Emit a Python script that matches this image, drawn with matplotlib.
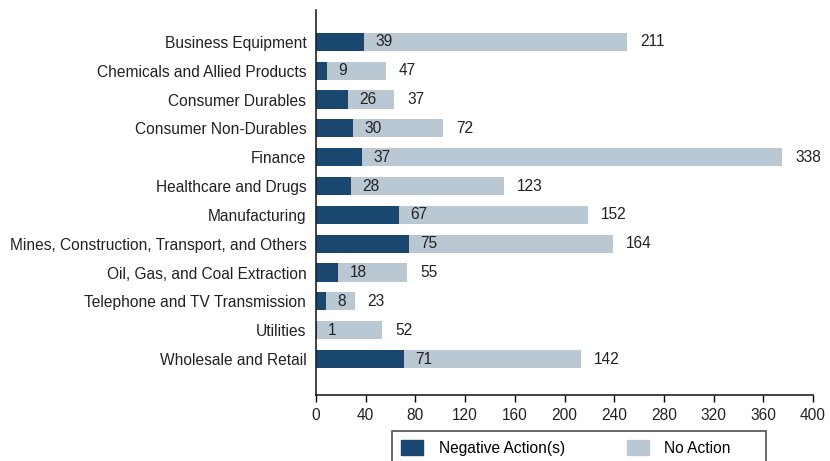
import numpy as np
import matplotlib.pyplot as plt

plt.rcParams['font.family'] = ['Liberation Sans', 'DejaVu Sans']

# data
industries = ['Business Equipment', 'Chemicals and Allied Products', 'Consumer Durables',
              'Consumer Non-Durables', 'Finance', 'Healthcare and Drugs', 'Manufacturing',
              'Mines, Construction, Transport, and Others', 'Oil, Gas, and Coal Extraction',
              'Telephone and TV Transmission', 'Utilities', 'Wholesale and Retail']
negative = [39, 9, 26, 30, 37, 28, 67, 75, 18, 8, 1, 71]
no_action = [211, 47, 37, 72, 338, 123, 152, 164, 55, 23, 52, 142]
xticks = list(range(0, 401, 40))

dark = '#1a476f'
light = '#bac8d4'
txt = '#222222'
fs = 11.2

fig = plt.figure(figsize=(8.3, 4.61), dpi=100)
ax = fig.add_axes([316 / 830, 0.143, 497 / 830, 0.835])

y = np.arange(len(industries))
ax.barh(y, negative, height=0.63, color=dark)
ax.barh(y, no_action, left=negative, height=0.63, color=light)

# value labels
for yi, n, a in zip(y, negative, no_action):
    ax.annotate(str(n), (n, yi), xytext=(8, 0), textcoords='offset points',
                va='center', ha='left', fontsize=fs, color=txt)
    ax.annotate(str(a), (n + a, yi), xytext=(9.5, 0), textcoords='offset points',
                va='center', ha='left', fontsize=fs, color=txt)

ax.set_xlim(0, 400)
ax.set_ylim(len(industries) - 1 + 1.25, -1.1)
ax.set_xticks(xticks)
ax.set_yticks(y)
ax.set_yticklabels(industries)
ax.tick_params(axis='y', length=0, pad=7, labelsize=fs, labelcolor=txt)
ax.tick_params(axis='x', length=5, width=1, pad=4, labelsize=fs, labelcolor=txt)

for s in ['top', 'right']:
    ax.spines[s].set_visible(False)
for s in ['left', 'bottom']:
    ax.spines[s].set_linewidth(1.2)
    ax.spines[s].set_color(txt)

handles = [plt.Rectangle((0, 0), 1, 1, color=dark), plt.Rectangle((0, 0), 1, 1, color=light)]
leg = fig.legend(handles, ['Negative Action(s)', 'No Action      '], ncol=2,
                 loc='upper left', bbox_to_anchor=(392 / 830, 30 / 461),
                 fontsize=fs, frameon=True, fancybox=False, edgecolor=txt,
                 handlelength=1.4, handleheight=1.1, handletextpad=1.0,
                 columnspacing=4.0, borderpad=0.6, borderaxespad=0)
leg.get_frame().set_linewidth(1.2)

fig.savefig('out.png', dpi=100)
